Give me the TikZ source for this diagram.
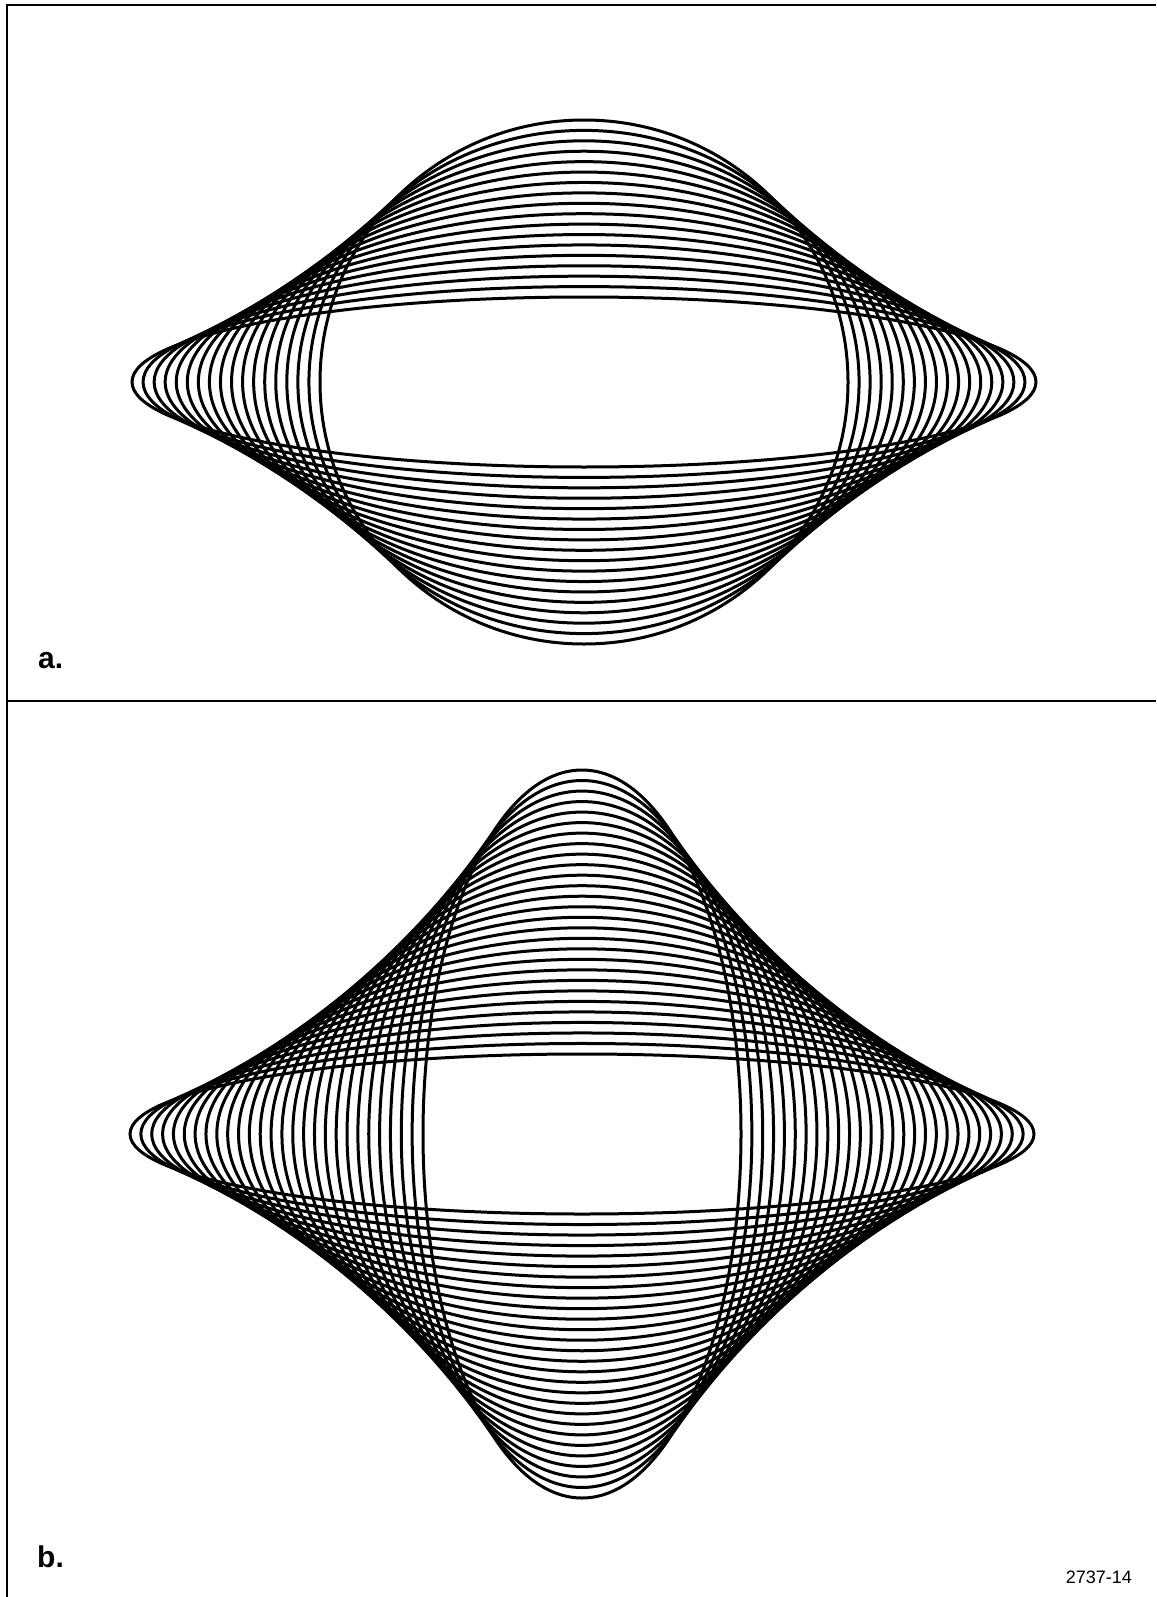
\documentclass[tikz,border=0pt]{standalone}
\usepackage{fontspec}
\setmainfont{Liberation Sans}
\usetikzlibrary{positioning}
\begin{document}
\begin{tikzpicture}[x=1pt,y=-1pt,
    trace/.style={line width=3pt},
    frameline/.style={line width=1.6pt},
    panellabel/.style={font=\fontsize{30}{30}\selectfont\bfseries, anchor=base west, inner sep=0pt},
    figno/.style={font=\fontsize{18}{18}\selectfont, anchor=base east, inner sep=0pt}]
    \useasboundingbox (0,0) rectangle (1156,1597);
    % Frame and divider
    \draw[frameline] (1156,5) -- (7,5) -- (7,1597);
    \draw[frameline] (7,701) -- (1156,701);
    % Centres of the two families
    \coordinate (ctrA) at (584,382);
    \coordinate (ctrB) at (582,1134);
    % Panel a: 18 ellipses, width grows as height shrinks
    \foreach \k in {0,...,17} {
      \pgfmathsetmacro{\ra}{264+188*\k/17}
      \pgfmathsetmacro{\rb}{262-177*\k/17}
      \draw[trace] (ctrA) ellipse [x radius=\ra pt, y radius=\rb pt];
    }
    % Panel b: 28 ellipses
    \foreach \k in {0,...,27} {
      \pgfmathsetmacro{\ra}{159+293*\k/27}
      \pgfmathsetmacro{\rb}{364-284*\k/27}
      \draw[trace] (ctrB) ellipse [x radius=\ra pt, y radius=\rb pt];
    }
    % Labels
    \node[panellabel] (labelA) at (38,668) {a.};
    \node[panellabel] (labelB) at (37,1567) {b.};
    \node[figno] (figno) at (1132,1583) {2737-14};
\end{tikzpicture}
\end{document}
